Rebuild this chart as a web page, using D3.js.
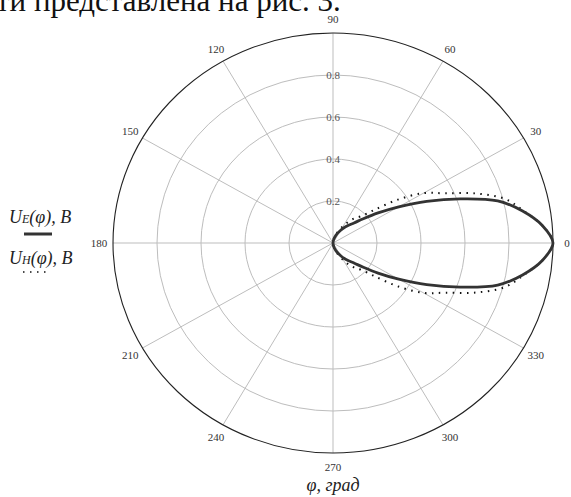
<!DOCTYPE html>
<html>
<head>
<meta charset="utf-8">
<script src="https://cdn.jsdelivr.net/npm/d3@7"></script>
<style>
  body { margin: 0; background: #fff; }
  svg { display: block; }
  text { font-family: "Liberation Serif", "DejaVu Serif", serif; }
</style>
</head>
<body>
<div id="chart"></div>
<script>
// angles in degrees, half of the lobe (the other half mirrors it)
const angles = [0, 5, 10, 15, 20, 25, 30, 35, 40, 45, 50, 55, 60, 70, 80, 90];
const uE = [1.0, 0.955, 0.875, 0.775, 0.615, 0.47, 0.345, 0.25, 0.18, 0.135, 0.11, 0.09, 0.07, 0.04, 0.015, 0];
const uH = [1.0, 0.955, 0.88, 0.81, 0.69, 0.56, 0.475, 0.36, 0.245, 0.18, 0.155, 0.125, 0.095, 0.05, 0.02, 0];
const ringTicks = [0.2, 0.4, 0.6, 0.8];
const spokeAngles = [0, 30, 60, 90, 120, 150, 180, 210, 240, 270, 300, 330];

const W = 571, H = 497;
const cx = 333, cy = 243;

const svg = d3.select("#chart").append("svg")
    .attr("width", W)
    .attr("height", H);

svg.append("rect").attr("width", W).attr("height", H).attr("fill", "#fff");

// the plot in the picture is slightly squashed vertically
const rx = d3.scaleLinear().domain([0, 1]).range([0, 220]);
const ry = d3.scaleLinear().domain([0, 1]).range([0, 210]);
const rad = d => d * Math.PI / 180;
const px = (r, a) => cx + rx(r) * Math.cos(rad(a));
const py = (r, a) => cy - ry(r) * Math.sin(rad(a));

// cut-off line of body text above the figure
svg.append("text")
    .attr("x", -4)
    .attr("y", 11)
    .attr("font-size", 31)
    .attr("fill", "#111")
    .text("ти представлена на рис. 3.");

const grid = svg.append("g");

grid.selectAll(".ring")
    .data(ringTicks)
    .enter().append("ellipse")
    .attr("cx", cx).attr("cy", cy)
    .attr("rx", d => rx(d)).attr("ry", d => ry(d))
    .attr("fill", "none")
    .attr("stroke", "#bdbdbd")
    .attr("stroke-width", 1);

grid.selectAll(".spoke")
    .data(spokeAngles)
    .enter().append("line")
    .attr("x1", cx).attr("y1", cy)
    .attr("x2", d => px(1, d)).attr("y2", d => py(1, d))
    .attr("stroke", "#bdbdbd")
    .attr("stroke-width", 1);

grid.append("ellipse")
    .attr("cx", cx).attr("cy", cy)
    .attr("rx", rx(1)).attr("ry", ry(1))
    .attr("fill", "none")
    .attr("stroke", "#222")
    .attr("stroke-width", 1.1);

grid.selectAll(".rlab")
    .data(ringTicks)
    .enter().append("text")
    .attr("x", cx)
    .attr("y", d => py(d, 90))
    .attr("text-anchor", "middle")
    .attr("dy", "0.33em")
    .attr("font-size", 11)
    .attr("fill", "#555")
    .text(d => d.toFixed(1));

grid.selectAll(".alab")
    .data(spokeAngles)
    .enter().append("text")
    .attr("x", d => cx + (rx(1) + 14) * Math.cos(rad(d)))
    .attr("y", d => cy - (ry(1) + 14) * Math.sin(rad(d)))
    .attr("text-anchor", "middle")
    .attr("dy", "0.35em")
    .attr("font-size", 11)
    .attr("fill", "#333")
    .text(d => d);

// build the closed lobe: upper half then mirrored lower half
function lobe(values) {
    const pts = angles.map((a, i) => [a, values[i]]);
    const lower = pts.slice(1).reverse().map(p => [-p[0], p[1]]);
    const all = lower.concat(pts);
    return all.map(p => [px(p[1], p[0]), py(p[1], p[0])]);
}

const line = d3.line().curve(d3.curveCatmullRomClosed.alpha(0.5));

svg.append("path")
    .attr("d", line(lobe(uH)))
    .attr("fill", "none")
    .attr("stroke", "#111")
    .attr("stroke-width", 2)
    .attr("stroke-dasharray", "1.5 5.5");

svg.append("path")
    .attr("d", line(lobe(uE)))
    .attr("fill", "none")
    .attr("stroke", "#333")
    .attr("stroke-width", 2.8);

// legend
const leg = svg.append("g").attr("font-style", "italic").attr("fill", "#222");

const t1 = leg.append("text").attr("x", 9).attr("y", 223).attr("font-size", 18);
t1.append("tspan").text("U");
t1.append("tspan").attr("font-size", 12).text("E");
t1.append("tspan").text("(φ), B");

leg.append("line")
    .attr("x1", 24).attr("x2", 52)
    .attr("y1", 234).attr("y2", 234)
    .attr("stroke", "#333").attr("stroke-width", 3);

const t2 = leg.append("text").attr("x", 9).attr("y", 264).attr("font-size", 18);
t2.append("tspan").text("U");
t2.append("tspan").attr("font-size", 12).text("H");
t2.append("tspan").text("(φ), B");

leg.append("line")
    .attr("x1", 23).attr("x2", 49)
    .attr("y1", 272).attr("y2", 272)
    .attr("stroke", "#111").attr("stroke-width", 1.6)
    .attr("stroke-dasharray", "1.5 5.5");

svg.append("text")
    .attr("x", cx)
    .attr("y", 491)
    .attr("text-anchor", "middle")
    .attr("font-size", 18)
    .attr("font-style", "italic")
    .attr("fill", "#222")
    .text("φ, град");
</script>
</body>
</html>
